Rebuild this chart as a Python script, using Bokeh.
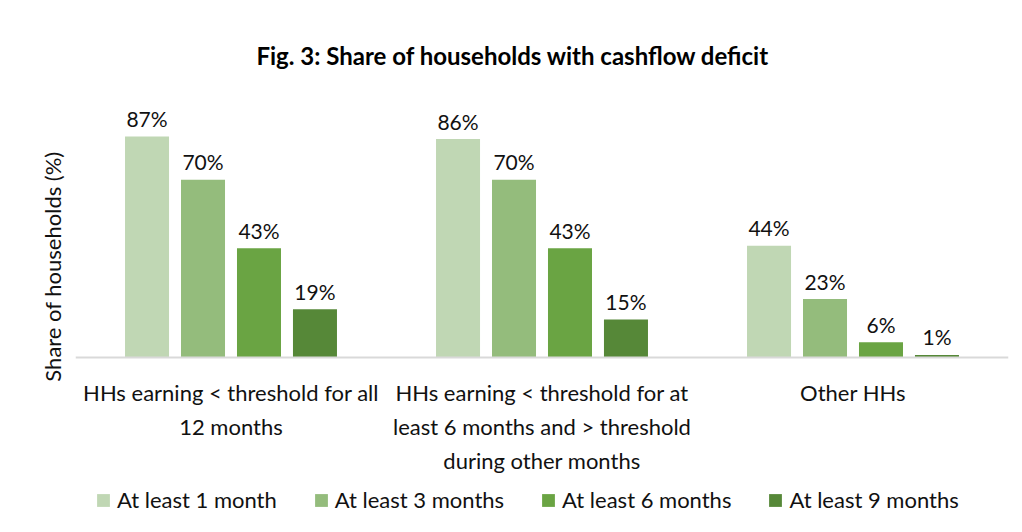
from bokeh.plotting import figure
from bokeh.models import FactorRange, Range1d, ColumnDataSource, Legend, LegendItem, Span
from bokeh.transform import dodge
from bokeh.core.properties import value
from bokeh.embed import file_html
from bokeh.resources import INLINE

groups = [
    "HHs earning < threshold for all\n12 months",
    "HHs earning < threshold for at\nleast 6 months and > threshold\nduring other months",
    "Other HHs",
]
series_names = ["At least 1 month", "At least 3 months", "At least 6 months", "At least 9 months"]
at_least_1 = [87, 86, 44]
at_least_3 = [70, 70, 23]
at_least_6 = [43, 43, 6]
at_least_9 = [19, 15, 1]
colors = ["#C0D7B4", "#94BC7C", "#6AA443", "#568838"]
title_text = "Fig. 3: Share of households with cashflow deficit"
y_label = "Share of households (%)"

series = [at_least_1, at_least_3, at_least_6, at_least_9]
offsets = [-0.27, -0.09, 0.09, 0.27]
bar_w = 0.1415

FONT = "Lato"
TXT = "#111111"
W, H = 1022, 532
PX = 2.54          # pixels per percentage point
BASE = 357         # pixel row of the baseline
CAT_PX = 311       # pixel width of one category

p = figure(
    x_range=FactorRange(*groups, range_padding=0),
    y_range=Range1d(-(H - BASE) / PX, BASE / PX),
    width=W, height=H,
    output_backend="svg", toolbar_location=None,
    x_axis_location=None,
    min_border_left=75, min_border_right=14,
    min_border_top=0, min_border_bottom=0,
)
p.title.visible = False
p.background_fill_color = "white"
p.border_fill_color = "white"
p.outline_line_color = None
p.xgrid.grid_line_color = None
p.ygrid.grid_line_color = None

# baseline (category axis line)
p.add_layout(Span(location=0, dimension="width", line_color="#D9D9D9", line_width=2))

items = []
for vals, name, col, off in zip(series, series_names, colors, offsets):
    src = ColumnDataSource(dict(g=groups, v=vals, lbl=[f"{v}%" for v in vals]))
    r = p.vbar(x=dodge("g", off, range=p.x_range), top="v", width=bar_w, source=src,
               fill_color=col, line_color=None)
    p.text(x=dodge("g", off, range=p.x_range), y="v", text="lbl", source=src,
           text_align="center", text_baseline="alphabetic", y_offset=-18,
           text_font=value(FONT), text_font_size="21px", text_color=TXT)
    items.append(LegendItem(label=name, renderers=[r]))

# category labels under the baseline
cat_src = ColumnDataSource(dict(g=groups, y0=[0] * len(groups)))
p.text(x="g", y="y0", text="g", source=cat_src,
       text_align="center", text_baseline="top", y_offset=21,
       text_font=value(FONT), text_font_size="22px", text_color=TXT,
       text_line_height=1.27)

# chart title
title_src = ColumnDataSource(dict(g=[groups[1]], y=[(BASE - 55) / PX], t=[title_text]))
p.text(x=dodge("g", (512.5 - 541.5) / CAT_PX, range=p.x_range), y="y", text="t",
       source=title_src, text_align="center", text_baseline="middle",
       text_font=value(FONT), text_font_size="24px", text_font_style="bold",
       text_color="#000000")

ya = p.yaxis[0]
ya.axis_line_color = None
ya.major_tick_line_color = None
ya.minor_tick_line_color = None
ya.major_label_text_font_size = "0px"
ya.major_label_standoff = 0
ya.axis_label = y_label
ya.axis_label_text_font = FONT
ya.axis_label_text_font_size = "22px"
ya.axis_label_text_font_style = "normal"
ya.axis_label_text_color = TXT
ya.axis_label_standoff = 4

legend = Legend(items=items, orientation="horizontal", location=(20, 19))
legend.border_line_color = None
legend.background_fill_alpha = 0
legend.padding = 0
legend.margin = 0
legend.spacing = 36
legend.glyph_width = 16
legend.glyph_height = 16
legend.label_standoff = 6
legend.label_text_font = FONT
legend.label_text_font_size = "22px"
legend.label_text_color = TXT
legend.label_height = 26
p.add_layout(legend, "center")

open("out.html", "w").write(file_html(p, INLINE))
